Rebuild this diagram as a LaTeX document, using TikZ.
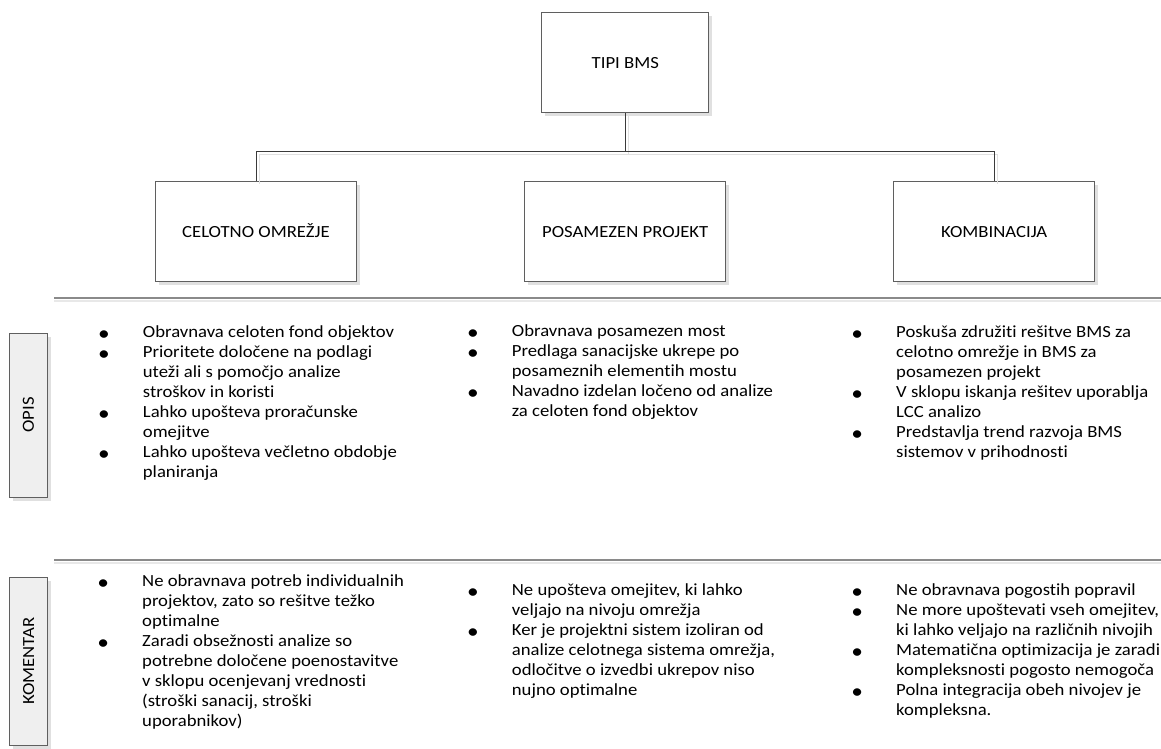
\documentclass[tikz,border=0pt]{standalone}
\usepackage{fontspec}
\setmainfont{Carlito}[FakeStretch=1.10, Ligatures=NoCommon]
\definecolor{boxline}{HTML}{5F5F5F}
\definecolor{shadowc}{HTML}{E0E0E0}
\definecolor{sidefill}{HTML}{EFEFEF}
\definecolor{wire}{HTML}{3A3A3A}
\definecolor{rule}{HTML}{8A8A8A}
\definecolor{ruleshadow}{HTML}{E8E8E8}
% bullet hung 39pt to the left of the item text
\newcommand\itm{\llap{\makebox[0pt]{\raisebox{-3pt}{\scalebox{1.25}{•}}}\hspace{39pt}}}
\begin{document}
\begin{tikzpicture}[x=1pt,y=-1pt,
  every node/.style={font=\fontsize{17}{20}\selectfont, text=black},
  shadowed/.style={preaction={draw=none, fill=shadowc,
      transform canvas={shift={(3.5pt,-3.5pt)}}}},
  typebox/.style={shadowed, draw=boxline, line width=1pt, fill=white,
      minimum width=201pt, minimum height=100pt, inner sep=0pt,
      text height=14pt, text depth=2pt},
  sidebox/.style={shadowed, draw=boxline, line width=1pt, fill=sidefill,
      minimum width=38pt, inner sep=0pt},
  wireshadow/.style={draw=shadowc, line width=1pt,
      transform canvas={shift={(3pt,-3pt)}}},
  link/.style={draw=wire, line width=1pt},
  bullets/.style={anchor=base west, inner sep=0pt, align=left},
  sep/.style={draw=rule, line width=2pt},
  sepshade/.style={draw=ruleshadow, line width=2pt}]

\useasboundingbox[fill=white] (0,0) rectangle (1161,749);

% hierarchy boxes
\node[typebox, minimum width=167pt] (top) at (625.3,63) {TIPI BMS};
\node[typebox] (b1) at (256,231) {CELOTNO OMREŽJE};
\node[typebox] (b2) at (625.2,231) {POSAMEZEN PROJEKT};
\node[typebox] (b3) at (994.2,231) {KOMBINACIJA};

% connectors (shadow first, then line)
\coordinate (bus) at (625.3,151.7);
\path[wireshadow] (top.south) -- (bus);
\path[wireshadow] (b1.north) |- (bus) -| (b3.north);
\path[link] (top.south) -- (bus);
\path[link] (b1.north) |- (bus) -| (b3.north);

% horizontal separators
\coordinate (s1l) at (54,298.3);
\coordinate (s1r) at (1161,298.3);
\coordinate (s2l) at (54,560);
\coordinate (s2r) at (1161,560);
\path[sepshade] ([yshift=-3pt]s1l) -- ([yshift=-3pt]s1r);
\path[sepshade] ([yshift=-3pt]s2l) -- ([yshift=-3pt]s2r);
\path[sep] (s1l) -- (s1r);
\path[sep] (s2l) -- (s2r);

% row labels
\node[sidebox, minimum height=164pt] (opis) at (28.4,415) {};
\node[rotate=90] at (opis.center) {OPIS};
\node[sidebox, minimum height=168pt] (kom) at (28.6,661) {};
\node[rotate=90] at (kom.center) {KOMENTAR};

% OPIS row
\node[bullets] (o1) at (142.7,337) {\begin{tabular}[t]{@{}l@{}}
\itm Obravnava celoten fond objektov\\
\itm Prioritete določene na podlagi\\
uteži ali s pomočjo analize\\
stroškov in koristi\\
\itm Lahko upošteva proračunske\\
omejitve\\
\itm Lahko upošteva večletno obdobje\\
planiranja\end{tabular}};

\node[bullets] (o2) at (511.7,336.5) {\begin{tabular}[t]{@{}l@{}}
\itm Obravnava posamezen most\\
\itm Predlaga sanacijske ukrepe po\\
posameznih elementih mostu\\
\itm Navadno izdelan ločeno od analize\\
za celoten fond objektov\end{tabular}};

\node[bullets] (o3) at (896,337) {\begin{tabular}[t]{@{}l@{}}
\itm Poskuša združiti rešitve BMS za\\
celotno omrežje in BMS za\\
posamezen projekt\\
\itm V sklopu iskanja rešitev uporablja\\
LCC analizo\\
\itm Predstavlja trend razvoja BMS\\
sistemov v prihodnosti\end{tabular}};

% KOMENTAR row
\node[bullets] (k1) at (142,586.5) {\begin{tabular}[t]{@{}l@{}}
\itm Ne obravnava potreb individualnih\\
projektov, zato so rešitve težko\\
optimalne\\
\itm Zaradi obsežnosti analize so\\
potrebne določene poenostavitve\\
v sklopu ocenjevanj vrednosti\\
(stroški sanacij, stroški\\
uporabnikov)\end{tabular}};

\node[bullets] (k2) at (511.7,595.5) {\begin{tabular}[t]{@{}l@{}}
\itm Ne upošteva omejitev, ki lahko\\
veljajo na nivoju omrežja\\
\itm Ker je projektni sistem izoliran od\\
analize celotnega sistema omrežja,\\
odločitve o izvedbi ukrepov niso\\
nujno optimalne\end{tabular}};

\node[bullets] (k3) at (896,595) {\begin{tabular}[t]{@{}l@{}}
\itm Ne obravnava pogostih popravil\\
\itm Ne more upoštevati vseh omejitev,\\
ki lahko veljajo na različnih nivojih\\
\itm Matematična optimizacija je zaradi\\
kompleksnosti pogosto nemogoča\\
\itm Polna integracija obeh nivojev je\\
kompleksna.\end{tabular}};
\end{tikzpicture}
\end{document}
